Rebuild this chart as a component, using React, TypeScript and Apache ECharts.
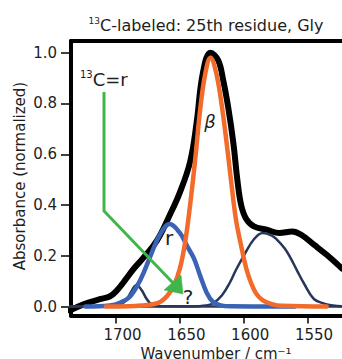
import React, { useEffect, useRef } from "react";
import * as echarts from "echarts";

// Measured spectrum (black)
const wBlack = [1736, 1725, 1712, 1705, 1700, 1692, 1686, 1679, 1668, 1658, 1650, 1642, 1637, 1632, 1626, 1620, 1616, 1612, 1608, 1605, 1602, 1598, 1592, 1582, 1572, 1562, 1555, 1545, 1535, 1523];
const aBlack = [-0.015, 0.01, 0.03, 0.04, 0.06, 0.11, 0.15, 0.19, 0.26, 0.36, 0.45, 0.57, 0.72, 0.92, 1.0, 0.97, 0.89, 0.78, 0.64, 0.5, 0.4, 0.345, 0.316, 0.303, 0.29, 0.296, 0.283, 0.244, 0.204, 0.15];

// beta component (orange)
const wBeta = [1708, 1690, 1680, 1670, 1665, 1660, 1655, 1650, 1646, 1642, 1638, 1634, 1630, 1626, 1622, 1618, 1614, 1610, 1606, 1602, 1598, 1594, 1590, 1585, 1578, 1570, 1535];
const aBeta = [0, 0.001, 0.004, 0.01, 0.02, 0.042, 0.08, 0.15, 0.25, 0.4, 0.58, 0.78, 0.92, 0.98, 0.93, 0.82, 0.67, 0.5, 0.34, 0.24, 0.15, 0.09, 0.05, 0.025, 0.01, 0.003, 0];

// r component (blue)
const wR = [1724, 1705, 1697, 1689, 1681, 1673, 1666, 1658, 1650, 1644, 1639, 1634, 1629, 1624, 1618, 1610, 1560];
const aR = [0, 0.004, 0.015, 0.04, 0.105, 0.2, 0.28, 0.325, 0.29, 0.235, 0.19, 0.12, 0.055, 0.018, 0.005, 0.001, 0];

// small component near 1684 (navy)
const wSmall = [1736, 1705, 1697, 1692, 1688, 1684, 1680, 1676, 1672, 1665, 1523];
const aSmall = [0, 0.001, 0.008, 0.025, 0.06, 0.085, 0.065, 0.03, 0.008, 0.001, 0];

// component near 1585 (navy)
const wLow = [1736, 1640, 1630, 1624, 1617, 1611, 1606, 1600, 1592, 1585, 1578, 1574, 1568, 1564, 1558, 1553, 1545, 1537, 1530, 1523];
const aLow = [0, 0, 0.004, 0.013, 0.045, 0.093, 0.145, 0.2, 0.265, 0.29, 0.28, 0.264, 0.23, 0.198, 0.14, 0.093, 0.03, 0.012, 0.004, 0.001];

const xTicks = [1700, 1650, 1600, 1550];
const yTicks = [0, 0.2, 0.4, 0.6, 0.8, 1.0];

const pairs = (w: number[], a: number[]) => w.map((x, i) => [x, a[i]]);

const FONT = "DejaVu Sans";
const TXT = "#1e1e1e";
const GREEN = "#3fb54a";

export default function App() {
  const ref = useRef<HTMLDivElement | null>(null);
  useEffect(() => {
    if (!ref.current) return;
    const chart = echarts.init(ref.current, null, { renderer: "svg" });
    const line = (data: number[][], color: string, width: number, z: number) => ({
      type: "line",
      data,
      showSymbol: false,
      symbol: "none",
      smooth: 0.4,
      z,
      lineStyle: { color, width, cap: "round", join: "round" },
    });
    chart.setOption({
      animation: false,
      grid: { left: 71, right: 0, top: 41, bottom: 43.5 },
      xAxis: [
        {
          type: "value",
          inverse: true,
          min: 1523,
          max: 1735.3,
          axisLine: { show: true, onZero: false, lineStyle: { color: "#000", width: 4 } },
          axisTick: { show: true, customValues: xTicks, length: 8, lineStyle: { color: "#000", width: 1.5 } },
          axisLabel: {
            customValues: xTicks,
            fontFamily: FONT,
            fontSize: 15,
            color: TXT,
            margin: 12,
            padding: [0, 0, 0, 13],
            formatter: (v: number) => String(v),
          },
          splitLine: { show: false },
        },
        {
          type: "value",
          position: "top",
          inverse: true,
          min: 1523,
          max: 1735.3,
          axisLine: { show: true, onZero: false, lineStyle: { color: "#000", width: 4 } },
          axisTick: { show: false },
          axisLabel: { show: false },
          splitLine: { show: false },
        },
      ],
      yAxis: {
        type: "value",
        min: -0.035,
        max: 1.046,
        axisLine: { show: true, onZero: false, lineStyle: { color: "#000", width: 4 } },
        axisTick: { show: true, customValues: yTicks, length: 10, lineStyle: { color: "#000", width: 1.5 } },
        axisLabel: {
          customValues: yTicks,
          fontFamily: FONT,
          fontSize: 15,
          color: TXT,
          margin: 14,
          formatter: (v: number) => v.toFixed(1),
        },
        splitLine: { show: false },
      },
      series: [
        line(pairs(wBlack, aBlack), "#000000", 6, 2),
        line(pairs(wLow, aLow), "#27365a", 2.5, 3),
        line(pairs(wSmall, aSmall), "#27365a", 2.5, 3),
        line(pairs(wR, aR), "#3a63b5", 4.5, 4),
        line(pairs(wBeta, aBeta), "#f26b2a", 4.5, 5),
      ],
      graphic: [
        {
          type: "text",
          x: 206,
          y: 25,
          z: 20,
          style: {
            text: "{s|13}{n|C-labeled: 25th residue, Gly}",
            align: "center",
            verticalAlign: "middle",
            textAlign: "center",
            textVerticalAlign: "middle",
            rich: {
              s: { fontSize: 9, fontFamily: FONT, fill: TXT, color: TXT, verticalAlign: "top", lineHeight: 9 },
              n: { fontSize: 16, fontFamily: FONT, fill: TXT, color: TXT, lineHeight: 18 },
            },
          },
        },
        {
          type: "text",
          x: 20,
          y: 176,
          rotation: Math.PI / 2,
          z: 20,
          style: {
            text: "Absorbance (normalized)",
            fontSize: 15,
            fontFamily: FONT,
            fill: TXT,
            align: "center",
            verticalAlign: "middle",
            textAlign: "center",
            textVerticalAlign: "middle",
          },
        },
        {
          type: "text",
          x: 216,
          y: 354,
          z: 20,
          style: {
            text: "Wavenumber / cm\u207B\u00B9",
            fontSize: 15,
            fontFamily: FONT,
            fill: TXT,
            align: "center",
            verticalAlign: "middle",
            textAlign: "center",
            textVerticalAlign: "middle",
          },
        },
        {
          type: "text",
          x: 80,
          y: 79,
          z: 20,
          style: {
            text: "{s|13}{n|C=r}",
            align: "left",
            verticalAlign: "middle",
            textAlign: "left",
            textVerticalAlign: "middle",
            rich: {
              s: { fontSize: 10, fontFamily: FONT, fill: TXT, color: TXT, verticalAlign: "top", lineHeight: 10 },
              n: { fontSize: 18, fontFamily: FONT, fill: TXT, color: TXT, lineHeight: 20 },
            },
          },
        },
        {
          type: "text",
          x: 210,
          y: 121,
          z: 20,
          style: {
            text: "\u03B2",
            fontSize: 18,
            fontStyle: "italic",
            fontFamily: FONT,
            fill: TXT,
            align: "center",
            verticalAlign: "middle",
            textAlign: "center",
            textVerticalAlign: "middle",
          },
        },
        {
          type: "text",
          x: 169,
          y: 238,
          z: 20,
          style: {
            text: "r",
            fontSize: 20,
            fontFamily: FONT,
            fill: TXT,
            align: "center",
            verticalAlign: "middle",
            textAlign: "center",
            textVerticalAlign: "middle",
          },
        },
        {
          type: "text",
          x: 188,
          y: 297,
          z: 20,
          style: {
            text: "?",
            fontSize: 20,
            fontFamily: FONT,
            fill: TXT,
            align: "center",
            verticalAlign: "middle",
            textAlign: "center",
            textVerticalAlign: "middle",
          },
        },
        {
          type: "polyline",
          z: 30,
          shape: { points: [[104, 92], [104, 211], [174, 284]] },
          style: { stroke: GREEN, lineWidth: 3, fill: null, lineJoin: "miter" },
        },
        {
          type: "polygon",
          z: 30,
          shape: { points: [[183, 294], [164, 290], [181, 275]] },
          style: { fill: GREEN, stroke: GREEN, lineWidth: 0.5 },
        },
      ],
    });
    return () => chart.dispose();
  }, []);
  return (
    <div
      ref={ref}
      style={{ position: "fixed", left: 0, top: 0, width: 342, height: 359, background: "#fff" }}
    />
  );
}
